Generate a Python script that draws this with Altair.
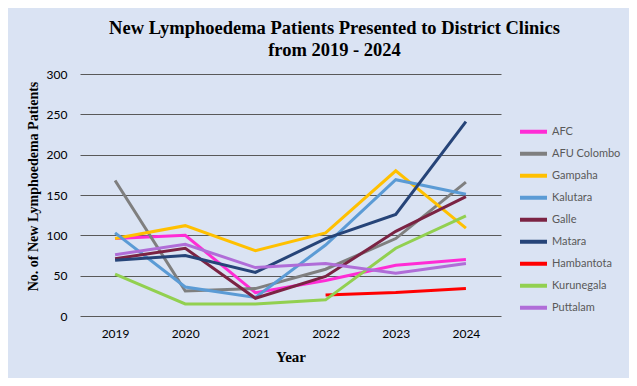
import altair as alt
import pandas as pd

years = ["2019", "2020", "2021", "2022", "2023", "2024"]
clinics = ["AFC", "AFU Colombo", "Gampaha", "Kalutara", "Galle", "Matara",
           "Hambantota", "Kurunegala", "Puttalam"]
afc = [96, 100, 29, 44, 63, 70]
afu_colombo = [168, 31, 34, 58, 96, 166]
gampaha = [96, 112, 81, 103, 180, 109]
kalutara = [103, 36, 23, 88, 169, 151]
galle = [71, 84, 22, 49, 105, 148]
matara = [69, 75, 54, 96, 126, 241]
hambantota = [None, None, None, 26, 29, 34]
kurunegala = [52, 15, 15, 20, 84, 124]
puttalam = [76, 89, 60, 65, 53, 65]
colors = ["#FF2CD5", "#7F7F7F", "#FFC000", "#5B9BD5", "#7B2343", "#264478",
          "#FF0000", "#92D050", "#B06DD8"]

series = [afc, afu_colombo, gampaha, kalutara, galle, matara, hambantota,
          kurunegala, puttalam]
rows = []
for name, vals in zip(clinics, series):
    for yr, v in zip(years, vals):
        if v is not None:
            rows.append({"Year": yr, "Clinic": name, "Patients": v})
df = pd.DataFrame(rows)

chart = alt.Chart(df).mark_line(strokeWidth=3).encode(
    x=alt.X("Year:O", sort=years,
            scale=alt.Scale(type="point", padding=0.5),
            axis=alt.Axis(title="Year", labelAngle=0, domain=False, ticks=False,
                          tickSize=0, grid=False, labelPadding=12,
                          labelFont="Lato", labelFontSize=12, labelColor="#000000",
                          titleFont="Liberation Serif", titleFontSize=15,
                          titleFontWeight="bold", titleColor="#000000",
                          titlePadding=10)),
    y=alt.Y("Patients:Q",
            scale=alt.Scale(domain=[0, 300], nice=False),
            axis=alt.Axis(title="No. of New Lymphoedema  Patients",
                          values=[0, 50, 100, 150, 200, 250, 300],
                          domain=False, ticks=False, tickSize=0,
                          grid=True, gridColor="#595959", gridWidth=1,
                          labelPadding=13, labelFont="Lato", labelFontSize=12,
                          labelColor="#000000",
                          titleFont="Liberation Serif", titleFontSize=14,
                          titleFontWeight="bold", titleColor="#000000",
                          titleX=-40, titleY=112)),
    color=alt.Color("Clinic:N", sort=clinics,
                    scale=alt.Scale(domain=clinics, range=colors),
                    legend=alt.Legend(title=None, orient="none",
                                      legendX=438, legendY=47,
                                      symbolType="stroke", symbolSize=729,
                                      symbolStrokeWidth=4, rowPadding=0,
                                      clipHeight=21.6,
                                      labelFont="Lato", labelFontSize=11,
                                      labelColor="#595959", labelOffset=3,
                                      padding=0)),
).properties(
    width=421,
    height=242,
    title=alt.TitleParams(
        text=["New Lymphoedema  Patients Presented to District Clinics",
              "from 2019 - 2024"],
        font="Liberation Serif", fontSize=18.5, fontWeight="bold",
        color="#000000", anchor="middle", dx=44, offset=9, lineHeight=22),
    autosize=alt.AutoSizeParams(type="none"),
    padding={"left": 72, "top": 66, "right": 128, "bottom": 62},
    background="#DAE3F3",
).configure_view(stroke=None)

chart.save("out.html", embed_options={"renderer": "svg", "actions": False})
